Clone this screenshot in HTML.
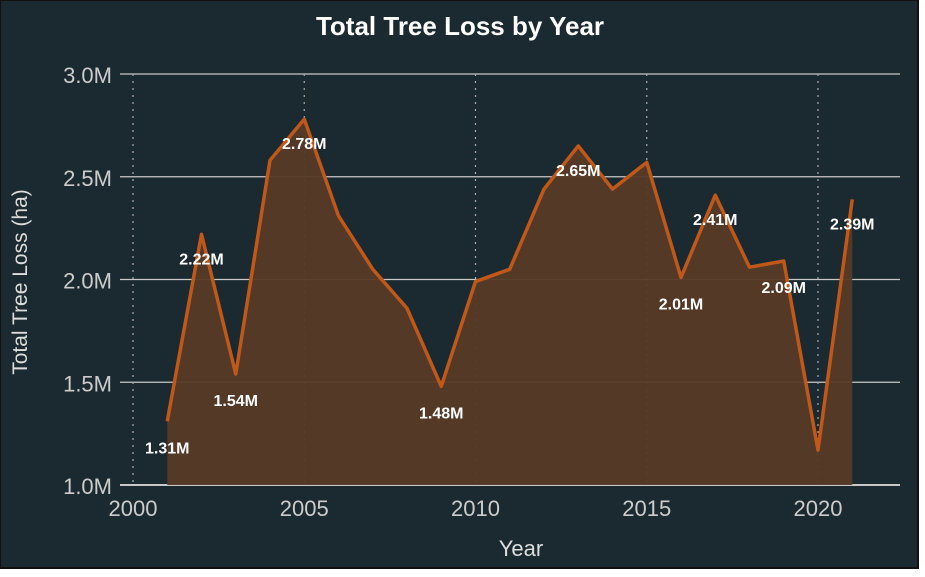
<!DOCTYPE html>
<html><head><meta charset="utf-8"><style>
html,body{margin:0;padding:0;background:#fff;width:925px;height:577px;overflow:hidden}
svg{display:block}
text{font-family:"Liberation Sans",sans-serif}
</style></head><body>
<svg width="925" height="577">
<rect x="0" y="0" width="918" height="568" fill="#1b2a30" stroke="#111" stroke-width="2"/>
<text x="460" y="35" text-anchor="middle" fill="#fff" font-size="26" font-weight="bold">Total Tree Loss by Year</text>
<g id="grid"></g>
<g id="plot"></g>
<text x="521" y="556" text-anchor="middle" fill="#ddd" font-size="22">Year</text>
<text transform="translate(27,282) rotate(-90)" text-anchor="middle" fill="#ddd" font-size="21">Total Tree Loss (ha)</text>
</svg>
<script>
const years=[2001,2002,2003,2004,2005,2006,2007,2008,2009,2010,2011,2012,2013,2014,2015,2016,2017,2018,2019,2020,2021];
const loss=[1.31,2.22,1.54,2.58,2.78,2.31,2.05,1.86,1.48,1.99,2.05,2.44,2.65,2.44,2.57,2.01,2.41,2.06,2.09,1.17,2.39];
const yTicks=[1.0,1.5,2.0,2.5,3.0];
const xTicks=[2000,2005,2010,2015,2020];
const labelYears=[2001,2002,2003,2005,2009,2013,2016,2017,2019,2021];
const labelBelow=[true,false,true,false,true,false,true,false,true,false];
const NS='http://www.w3.org/2000/svg';
const X=v=>133+(v-2000)*34.25;
const Y=v=>485-(v-1)*205.5;
function mk(tag,attrs,parent){const e=document.createElementNS(NS,tag);for(const k in attrs)e.setAttribute(k,attrs[k]);parent.appendChild(e);return e;}
const grid=document.getElementById('grid'),plot=document.getElementById('plot');
yTicks.forEach(t=>{
 const l=mk('line',{x1:120,x2:900,y1:Y(t),y2:Y(t),stroke:'#c8c8c8','stroke-width':t===1?2:1.2},grid);
 
 
 const tx=mk('text',{x:112,y:Y(t)+9,'text-anchor':'end',fill:'#ccc','font-size':22},grid);
 tx.textContent=t.toFixed(1)+'M';
 
 
});
xTicks.forEach(t=>{
 const l=mk('line',{x1:X(t),x2:X(t),y1:74,y2:484,stroke:'#aaa','stroke-width':1.2,'stroke-dasharray':'2,5'},grid);
 
 
 const tx=mk('text',{x:X(t),y:516,'text-anchor':'middle',fill:'#ccc','font-size':22},grid);
 tx.textContent=t;
 
 
});
const pts=years.map((y,i)=>X(y)+','+Y(loss[i])).join(' ');
const area=mk('polygon',{points:X(years[0])+','+Y(1)+' '+pts+' '+X(years[years.length-1])+','+Y(1),fill:'#563a26','fill-opacity':0.95},plot);


const line=mk('polyline',{points:pts,fill:'none',stroke:'#c0581a','stroke-width':3.5,'stroke-linejoin':'round'},plot);


labelYears.forEach((yr,j)=>{
 const i=years.indexOf(yr);
 const v=loss[i];
 const ty=labelBelow[j]?Y(v)+34:Y(v)+28;
 const tx=mk('text',{x:X(yr),y:labelBelow[j]?Y(v)+32:Y(v)+30,'text-anchor':'middle',fill:'#fff','font-size':16,'font-weight':'bold'},plot);
 tx.textContent=v.toFixed(2)+'M';
 
 
});
</script>
</body></html>
